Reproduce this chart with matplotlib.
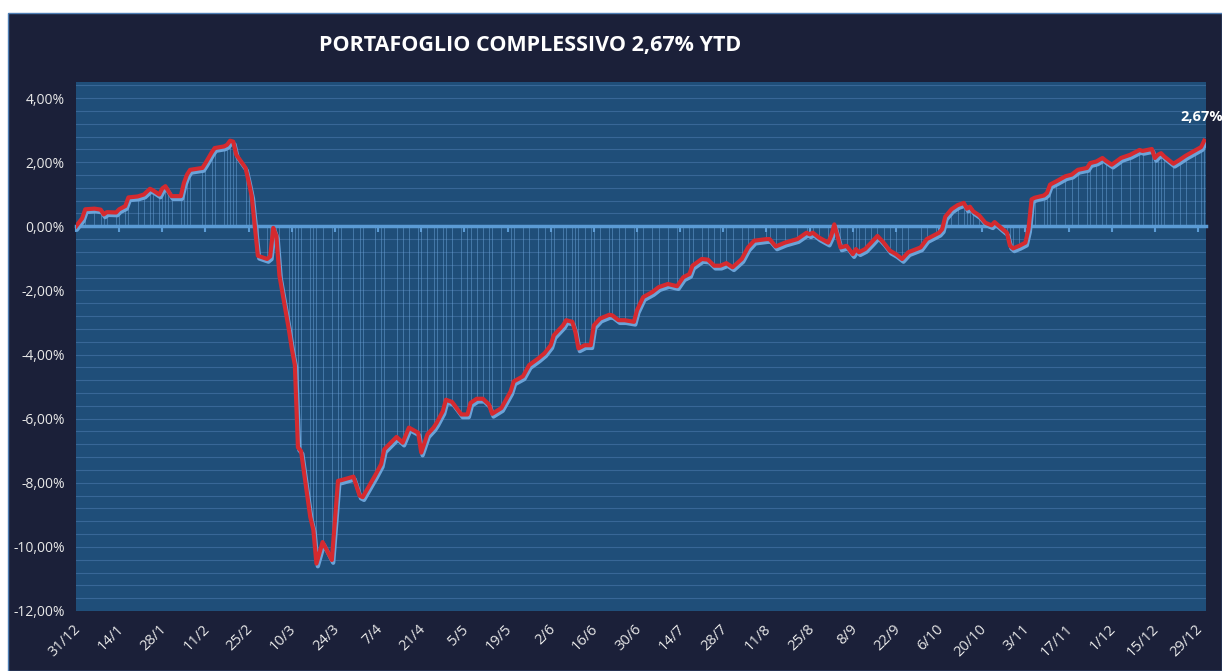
import matplotlib
matplotlib.use("Agg")
import matplotlib.pyplot as plt
import matplotlib.dates as mdates
import matplotlib.patheffects as pe
import matplotlib.transforms as mtransforms
from matplotlib.patches import Rectangle
import numpy as np
import pandas as pd

plt.rcParams["font.family"] = ["Open Sans", "DejaVu Sans"]

# YTD performance (%)
dates = [
	"2019-12-31", "2020-01-02", "2020-01-03", "2020-01-06", "2020-01-08", "2020-01-09", "2020-01-10",
	"2020-01-13", "2020-01-14", "2020-01-16", "2020-01-17", "2020-01-20", "2020-01-22", "2020-01-24",
	"2020-01-25", "2020-01-27", "2020-01-28", "2020-01-29", "2020-01-30", "2020-01-31", "2020-02-03",
	"2020-02-04", "2020-02-05", "2020-02-06", "2020-02-10", "2020-02-11", "2020-02-13", "2020-02-14",
	"2020-02-17", "2020-02-18", "2020-02-19", "2020-02-20", "2020-02-21", "2020-02-24", "2020-02-25",
	"2020-02-26", "2020-02-27", "2020-02-28", "2020-03-02", "2020-03-03", "2020-03-04", "2020-03-05",
	"2020-03-06", "2020-03-09", "2020-03-10", "2020-03-11", "2020-03-12", "2020-03-13", "2020-03-16",
	"2020-03-17", "2020-03-18", "2020-03-20", "2020-03-23", "2020-03-25", "2020-03-26", "2020-03-30",
	"2020-04-01", "2020-04-02", "2020-04-06", "2020-04-08", "2020-04-09", "2020-04-13", "2020-04-15",
	"2020-04-17", "2020-04-20", "2020-04-21", "2020-04-23", "2020-04-25", "2020-04-26", "2020-04-28",
	"2020-04-29", "2020-05-01", "2020-05-04", "2020-05-06", "2020-05-07", "2020-05-09", "2020-05-11",
	"2020-05-13", "2020-05-14", "2020-05-17", "2020-05-20", "2020-05-21", "2020-05-24", "2020-05-26",
	"2020-05-29", "2020-05-31", "2020-06-02", "2020-06-03", "2020-06-06", "2020-06-07", "2020-06-09",
	"2020-06-10", "2020-06-11", "2020-06-13", "2020-06-15", "2020-06-16", "2020-06-18", "2020-06-21",
	"2020-06-22", "2020-06-24", "2020-06-26", "2020-06-29", "2020-06-30", "2020-07-02", "2020-07-05",
	"2020-07-07", "2020-07-10", "2020-07-13", "2020-07-15", "2020-07-17", "2020-07-18", "2020-07-21",
	"2020-07-23", "2020-07-25", "2020-07-27", "2020-07-29", "2020-07-31", "2020-08-03", "2020-08-05",
	"2020-08-07", "2020-08-11", "2020-08-12", "2020-08-14", "2020-08-17", "2020-08-21", "2020-08-24",
	"2020-08-25", "2020-08-26", "2020-08-28", "2020-08-31", "2020-09-01", "2020-09-02", "2020-09-03",
	"2020-09-04", "2020-09-06", "2020-09-08", "2020-09-09", "2020-09-10", "2020-09-12", "2020-09-14",
	"2020-09-16", "2020-09-18", "2020-09-20", "2020-09-22", "2020-09-24", "2020-09-26", "2020-09-30",
	"2020-10-02", "2020-10-05", "2020-10-06", "2020-10-07", "2020-10-08", "2020-10-10", "2020-10-12",
	"2020-10-14", "2020-10-15", "2020-10-16", "2020-10-17", "2020-10-19", "2020-10-21", "2020-10-23",
	"2020-10-24", "2020-10-26", "2020-10-28", "2020-10-29", "2020-10-30", "2020-11-01", "2020-11-03",
	"2020-11-04", "2020-11-05", "2020-11-06", "2020-11-09", "2020-11-10", "2020-11-11", "2020-11-13",
	"2020-11-16", "2020-11-18", "2020-11-20", "2020-11-23", "2020-11-24", "2020-11-26", "2020-11-28",
	"2020-11-29", "2020-12-01", "2020-12-04", "2020-12-07", "2020-12-10", "2020-12-11", "2020-12-14",
	"2020-12-15", "2020-12-16", "2020-12-17", "2020-12-18", "2020-12-21", "2020-12-23", "2020-12-25",
	"2020-12-28", "2020-12-30", "2020-12-31",
]
values = [
	0.00, 0.25, 0.53, 0.55, 0.52, 0.37, 0.44,
	0.43, 0.53, 0.63, 0.90, 0.93, 0.99, 1.17,
	1.12, 0.99, 1.18, 1.25, 1.09, 0.94, 0.94,
	1.35, 1.61, 1.76, 1.82, 1.97, 2.30, 2.44,
	2.49, 2.54, 2.67, 2.64, 2.23, 1.82, 1.40,
	0.94, 0.00, -0.92, -1.02, -0.94, -0.05, -0.30,
	-1.54, -3.19, -3.81, -4.33, -6.90, -7.01, -9.07,
	-9.47, -10.52, -9.85, -10.41, -7.94, -7.92, -7.81,
	-8.40, -8.45, -7.78, -7.42, -6.96, -6.57, -6.75,
	-6.28, -6.44, -7.06, -6.49, -6.28, -6.13, -5.77,
	-5.41, -5.48, -5.87, -5.87, -5.51, -5.38, -5.38,
	-5.56, -5.85, -5.67, -5.15, -4.84, -4.68, -4.33,
	-4.12, -3.96, -3.71, -3.40, -3.09, -2.93, -2.98,
	-3.29, -3.81, -3.71, -3.71, -3.09, -2.88, -2.76,
	-2.78, -2.93, -2.93, -2.98, -2.62, -2.21, -2.05,
	-1.90, -1.80, -1.87, -1.59, -1.49, -1.23, -1.02,
	-1.04, -1.23, -1.23, -1.15, -1.28, -1.02, -0.66,
	-0.45, -0.40, -0.40, -0.63, -0.51, -0.40, -0.20,
	-0.25, -0.20, -0.35, -0.51, -0.30, 0.06, -0.30,
	-0.66, -0.61, -0.87, -0.71, -0.81, -0.71, -0.51,
	-0.30, -0.51, -0.76, -0.87, -1.02, -0.81, -0.66,
	-0.40, -0.25, -0.20, -0.09, 0.30, 0.53, 0.66,
	0.73, 0.55, 0.61, 0.47, 0.34, 0.11, 0.03,
	0.13, -0.04, -0.20, -0.61, -0.69, -0.61, -0.51,
	-0.09, 0.84, 0.89, 0.96, 1.04, 1.30, 1.40,
	1.56, 1.61, 1.76, 1.82, 1.97, 2.02, 2.13,
	2.05, 1.92, 2.13, 2.23, 2.38, 2.35, 2.41,
	2.13, 2.23, 2.28, 2.18, 1.95, 2.07, 2.20,
	2.36, 2.47, 2.67,
]

tick_labels = ["31/12", "14/1", "28/1", "11/2", "25/2", "10/3", "24/3", "7/4", "21/4", "5/5",
	"19/5", "2/6", "16/6", "30/6", "14/7", "28/7", "11/8", "25/8", "8/9", "22/9",
	"6/10", "20/10", "3/11", "17/11", "1/12", "15/12", "29/12"]
tick_dates = pd.date_range("2019-12-31", periods=len(tick_labels), freq="14D")

title = "PORTAFOGLIO COMPLESSIVO 2,67% YTD"
last_label = "2,67%"

W, H = 1222, 671
fig = plt.figure(figsize=(W / 100, H / 100), dpi=100)
fig.patch.set_facecolor("white")
fig.patches.append(Rectangle((8 / W, 0), 1 - 8 / W, (H - 13) / H, transform=fig.transFigure,
	facecolor="#1b2039", edgecolor="#4f7fb5", lw=1, zorder=-5))

ax = fig.add_axes([76 / W, 60 / H, 1130 / W, 529 / H])
ax.set_zorder(2)
ax.set_facecolor("#1f4e79")

x = pd.to_datetime(dates)
ax.vlines(x, 0, values, colors="#6aa3d8", lw=0.7, alpha=0.5, zorder=2)
ax.plot(x, values, color="#d42a2f", lw=3.0, solid_joinstyle="round", zorder=4,
	path_effects=[pe.SimpleLineShadow(offset=(1, -2), shadow_color="#6aa3d8", alpha=1.0), pe.Normal()])

ax.set_ylim(-12, 4.5)
ax.set_xlim(pd.Timestamp("2019-12-31"), pd.Timestamp("2020-12-31 14:00"))

ax.set_yticks(np.arange(-12, 4.1, 2))
ax.set_yticks(np.arange(-12, 4.5, 0.4), minor=True)
ax.yaxis.set_major_formatter(plt.FuncFormatter(lambda v, p: ("%.2f%%" % v).replace(".", ",")))
ax.grid(which="both", axis="y", color="#386797", lw=0.8, zorder=1)
ax.set_axisbelow(True)
ax.tick_params(axis="y", which="both", length=0, colors="#e8e8e8", labelsize=10, pad=8)

for s in ["left", "top", "right"]:
	ax.spines[s].set_visible(False)
ax.spines["bottom"].set_position(("data", 0))
ax.spines["bottom"].set_color("#5b9bd5")
ax.spines["bottom"].set_linewidth(2.5)
ax.spines["bottom"].set_zorder(3)

ax.set_xticks(tick_dates)
ax.tick_params(axis="x", direction="out", length=4, width=1.5, color="#5b9bd5", labelbottom=False)

# date labels at the bottom of the plot area
trans = mtransforms.blended_transform_factory(ax.transData, ax.transAxes)
trans = mtransforms.offset_copy(trans, fig=fig, x=-3, y=-11, units="dots")
for d, lab in zip(tick_dates, tick_labels):
	ax.text(mdates.date2num(d), 0, lab, transform=trans, rotation=45, rotation_mode="anchor",
		ha="right", va="top", color="#e8e8e8", fontsize=10.5, clip_on=False)

ax.annotate(last_label, xy=(x[-1], values[-1]), xytext=(-2, 24), textcoords="offset pixels",
	ha="center", va="center", color="white", fontsize=10.5, fontweight="bold", annotation_clip=False)

fig.text(530 / W, 1 - 45 / H, title, ha="center", va="center", color="white",
	fontsize=15.5, fontweight="bold")

fig.savefig("out.png", dpi=100, facecolor=fig.get_facecolor())
